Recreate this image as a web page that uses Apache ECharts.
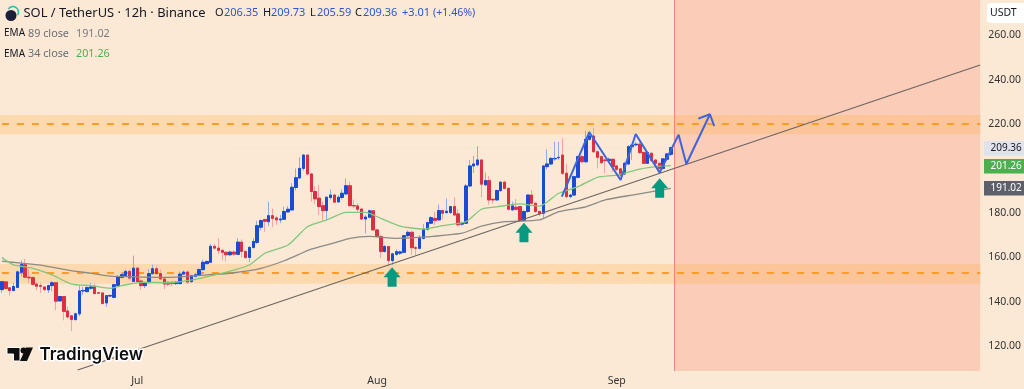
<!DOCTYPE html>
<html><head><meta charset="utf-8">
<style>html,body{margin:0;padding:0;background:#FBE9D5}#c{width:1024px;height:389px}</style>
<script src="https://cdn.jsdelivr.net/npm/echarts@6/dist/echarts.min.js"></script>
</head><body><div id="c"></div>
<script>
const opens=[145.4,148.9,146.2,145,146.4,153.2,156.6,151,150.8,147.9,147.2,146.6,145.3,147.2,148.5,140.3,142.3,135.8,133.6,131.9,
134.5,144.8,144.5,146,146.8,144,143.9,139.4,142.5,141.9,147.3,150.9,151.7,153.6,149.1,155.1,149.3,147.2,148.7,152.6,
154.8,152.6,150.2,148.7,148.7,148.1,148.1,152.4,153.3,149,151.4,151.8,154.4,157.1,157.7,164.9,164.1,163.1,162.2,161.1,
162.3,161.3,166.8,162.6,159.9,164.4,166.7,173.5,177,176,178.7,177.7,176.8,177.1,180.4,181.3,191.4,195.7,200,206,
197.5,189.6,186.6,183.2,181,186.9,188,184.9,186.9,188.5,192.2,183.3,183.1,181.7,177.2,178,180.9,172.3,169.3,162.6,
164.8,158.5,161.3,161.8,162.2,169.7,171.2,164.3,164,168.5,172.6,175.3,177.5,176.8,181,180.1,180.1,182.8,179.5,174.9,
175.3,192.1,201.1,201.6,203.8,192.6,194.5,186.1,185.8,190,193.8,191,181.3,182.5,182.8,176.5,180.6,188,184.3,180.6,
179.8,200.8,202,204.3,204.8,206,197.8,187.3,188,196,205.3,203,213.1,214.6,207.5,205.3,203.8,203.5,204.1,201.1,
199.8,197.5,202,209.8,210.6,210.9,207.2,202.3,206.8,203.8,202.3,200,204.1,206.35];
const closes=[149,145.9,145,146.8,153.4,156.8,151,150.7,147.8,146.9,146.9,145.4,147.2,148.5,140.2,142.3,135.6,133.1,131.9,134.5,
144.8,145,146.3,146.6,143.6,143.8,139.1,142.7,142.8,147.6,151.1,152.1,153.6,150.6,155.1,149,147.2,148.6,152.6,154.8,
152.6,150.2,147.9,147.9,148.1,148.7,152.4,153.3,148.8,151.7,152.1,154.4,157.7,158.1,164.9,164.1,163.1,162.2,161.1,162.3,
161.4,166.8,162.6,159.9,164.4,167.1,174.2,176.5,176.2,178.7,177.5,176.8,177.2,180.6,181.6,191.5,195.8,200,206,197.5,
189.6,186.3,182.8,181,187,188,184.8,187,188.8,192.2,183.2,183.1,181.6,177.2,178.1,180.9,172.3,169.3,162.6,164.8,
158.5,161.5,162.5,162.4,169.7,171.2,164.3,164,168.5,172.6,175.6,177.8,176.6,181,179.8,180.7,182.8,179,174.6,175.3,
192.1,201.1,202,203.8,192.9,194.5,185.8,185.8,190,193.8,191,181.6,183.1,181.6,176.5,180.6,188,184.3,180.6,179.5,
201.1,202,204.5,204.5,205,197.8,187.3,188,196.3,205.3,203,213.1,214.6,207.5,205,202.6,203.5,204.1,200.8,199.6,
197,202.3,209.8,210.5,210.9,207.1,202.3,207.1,203.5,202.3,200,204.3,206.5,209.36];
const lows=[143.9,145.4,142.7,144.6,146,151.4,150.7,148.4,147.2,145.1,143.9,144.7,143.9,144.7,136.1,140,131.6,132.2,126.7,131.5,
133.4,142.9,144.2,145.4,143.3,143.5,139,137.6,142,141.5,147,150.4,151.2,150,149,148.5,145.4,146.1,148,152.2,
152,149.8,145.6,147,146.9,147.5,147.8,152,148,148.5,151,151.5,154,156.8,157.4,163.5,161.5,158.6,158.1,160.5,
160.5,161,160,159.2,157.7,163.9,166,172,171.5,174,173.5,174.5,175.3,176.8,180,181,190,195.5,199,197,
185,184,179,176.6,176.8,186,184.5,184.5,186,188,183,182,180.5,176.8,170.8,177.5,172,169,159.6,162,
155.8,156.6,160.6,161,162,169,161,161,163.5,168,172,175,174.5,176.5,177,179.5,179.5,178.6,173.8,174,
175,191.6,198,201,187,192,183.6,184,185.5,189.5,190.5,181,181,181,175.8,176,180,184,180,178.5,
177.5,199.5,201.5,203.5,203.8,197,186.5,186.5,187.5,195.5,202.5,202.5,212.5,207,200,202,197.8,203,198.5,198.8,
196.2,197,201.5,203.8,210,206.5,202,202,203,202,199.5,199.5,203.8,205.59];
const highs=[149.3,149.2,146.4,148.4,154,158.6,159.2,154.7,151.4,148.7,148.4,146.9,147.6,149.2,148.7,142.5,142.5,137.6,133.8,135,
147.2,146.6,146.9,148.4,148.1,144.2,144,142.9,143,148,152,153,154.4,154.4,160.7,155.5,149.8,149,154.7,156.6,
156.2,154.4,150.5,149,149,149.3,153.6,154,154,152,153,155,158.9,158.5,166,166,168.6,163.5,162.8,163,
163,168.6,168,163,165,168.6,176.4,177,177.3,185,182,178.5,179,182.8,183,193.3,200,205,206.3,206.3,
198,192,192.5,185,187.5,190.5,188.5,188,190.6,195.5,194,186,184.3,182,179,181.5,181.2,172.5,170,165.5,
165,162,163.5,163,170,172,172,165,170,175,176,178.5,180.5,183.8,181.5,186.5,183,187,181.7,176,
193,203.8,205.6,210,204,198.2,196.6,186.5,190.5,194,194.5,191.5,185,186.2,183,181,188.3,190.3,184.6,181,
201.5,208.6,205,212,212,213.6,202,188.5,196.8,205.8,206,216.9,216.9,218.4,208,205.8,204.5,205,204.5,201.5,
200.2,203,210.5,211,212,212,207.5,207.5,207.2,204.2,202.6,204.6,207,209.73];

const categoryCount=254;
const tickLabels={35:'Jul',97:'Aug',159:'Sep'};
const priceTicks=[120,140,160,180,220,240,260];
const ema89=[[0,158.2],[5,157.3],[10,156.4],[17,154.2],[22,153],[28,151.5],[34,151.2],[43,150.9],[53,152],[60,153],[67,155],[73,158.4],[80,163.6],[85,166],[90,168.5],[95,169.4],[102,168.5],[109,169],[119,170.8],[124,174],[130,176],[139,176.8],[144,180.5],[151,182.7],[156,185.8],[163,188],[173,191.02]];
const ema34=[[0,159.8],[3,156.5],[8,155],[13,152],[18,147.9],[23,147.2],[28,146],[31,147.2],[36,148.7],[43,148.5],[50,150],[55,152],[60,154.2],[64,156.5],[68,161.8],[74,165.5],[79,173.7],[84,176.8],[89,180.2],[94,180.2],[98,177.5],[103,174],[109,172.7],[114,174.2],[120,176],[124,181.6],[128,182.7],[134,184],[139,183],[144,188.8],[149,191.8],[154,196],[159,197],[165,199.7],[170,201],[173,201.26]];
const trendLine=[[19.6,109.2],[253,246.6]];
const zigzag=[[144.8,187.3],[151.9,216.3],[160,194.8],[163.9,215.5],[170.1,198.1],[175,215.2],[177,202],[183.1,224.4]];
const arrowHead=[[180.1,222.4],[183.1,224.4],[184.2,219.1]];
const upArrows=[[100.9,151.1],[135,171.1],[170.1,191.2]];
const lastBarIndex=253, nowIndex=174;
const bands=[[215.4,224.05],[148,156.9]];
const bandLevels=[220,153];
const lastPrice=209.36;
const badges=[{v:209.36,bg:'#E0E3EB',fg:'#131722'},{v:201.26,bg:'#4CAF50',fg:'#fff'},{v:191.02,bg:'#5D606B',fg:'#fff'}];

const FONT='"Noto Sans",sans-serif';
const BLUE='#1A4BD1',RED='#DC2F41',PBLUE='#93A9EA',PRED='#F2A3A3';
const idx=[...Array(categoryCount).keys()];
const rows=opens.map((o,i)=>[o,closes[i],lows[i],highs[i]]);
const bodies=opens.map((o,i)=>[o,closes[i],Math.min(o,closes[i]),Math.max(o,closes[i])]);

const chart=echarts.init(document.getElementById('c'),null,{renderer:'canvas'});
const yMin=108.74,yMax=275.86;
function txt(x,y,text,fill,size,weight){return {type:'text',x,y,z:20,style:{text,fill,font:(weight||'normal')+' '+size+'px '+FONT,textVerticalAlign:'middle'}};}
const graphic=[
 {type:'circle',z:20,shape:{cx:11,cy:15.5,r:5.5},style:{fill:'#1B1F3A'}},
 {type:'arc',z:20,shape:{cx:13,cy:12,r:5.5,startAngle:-2.6,endAngle:0.6},style:{stroke:'#2FB8A8',lineWidth:1.5,fill:null}},
 txt(23.5,13,'SOL / TetherUS · 12h · Binance','#131722',12.9),
 txt(215,13,'O','#131722',11),txt(224,13,'206.35','#2B55D6',11),
 txt(263,13,'H','#131722',11),txt(271,13,'209.73','#2B55D6',11),
 txt(310,13,'L','#131722',11),txt(317,13,'205.59','#2B55D6',11),
 txt(355,13,'C','#131722',11),txt(363,13,'209.36','#2B55D6',11),
 txt(402,13,'+3.01','#2B55D6',11),txt(433,13,'(+1.46%)','#2B55D6',10.6),
 txt(4,33.5,'EMA','#131722',10),txt(28,33.5,'89 close','#6a6d78',10.8),txt(76,33.5,'191.02','#777a85',10.8),
 txt(4,54,'EMA','#131722',10),txt(28,54,'34 close','#6a6d78',10.8),txt(76,54,'201.26','#4CAF50',10.8),
 {type:'rect',z:20,shape:{x:987,y:3,width:42,height:20,r:4},style:{fill:'#FFFFFF'}},
 txt(990,13,'USDT','#131722',10.5),
 {type:'polygon',z:20,shape:{points:[[7,347.5],[20,347.5],[20,361],[13.5,361],[13.5,354],[7,354]]},style:{fill:'#0F0F0F',stroke:'#fff',lineWidth:1}},
 {type:'circle',z:20,shape:{cx:23.5,cy:350.5,r:3},style:{fill:'#0F0F0F'}},
 {type:'polygon',z:20,shape:{points:[[26,347.5],[33,347.5],[27,361],[20,361]]},style:{fill:'#0F0F0F'}},
 {type:'text',x:39.5,y:355,z:20,style:{text:'TradingView',fill:'#0F0F0F',font:'600 17px "Inter",'+FONT,textVerticalAlign:'middle',stroke:'#ffffff',lineWidth:3}}
];
const yPix=v=>(275.86-v)/(yMax-yMin)*371;
badges.forEach(b=>{const y=yPix(b.v);
 graphic.push({type:'rect',z:20,shape:{x:984,y:Math.round(y)-7,width:40,height:14.5},style:{fill:b.bg}});
 graphic.push(txt(990.5,Math.round(y),b.v.toFixed(2),b.fg,10));
});
chart.setOption({
 animation:false,backgroundColor:'#FBE9D5',graphic,
 grid:{left:0,top:0,width:985,height:371,containLabel:false},
 xAxis:[
  {type:'category',data:idx.map(String),boundaryGap:true,
   axisLine:{show:false},axisTick:{show:false},splitLine:{show:false},
   axisLabel:{interval:(i)=>tickLabels[i]!==undefined,formatter:(v)=>tickLabels[v]||'',color:'#333',fontSize:10.5,fontFamily:FONT,margin:5}},
  {type:'value',min:-0.5,max:categoryCount-0.5,show:false}
 ],
 yAxis:{type:'value',position:'right',min:yMin,max:yMax,
  axisLine:{show:false},axisTick:{show:false},splitLine:{show:false},
  axisLabel:{customValues:priceTicks,formatter:v=>v.toFixed(2),color:'#333',fontSize:10.5,fontFamily:FONT,margin:6}},
 series:[
  {type:'line',xAxisIndex:1,data:[],silent:true,
   markArea:{silent:true,z:1,data:[
     [{coord:[nowIndex,yMin],itemStyle:{color:'#FBCDB9'}},{coord:[lastBarIndex,yMax]}],
     ...bands.map(b=>[{coord:[-0.5,b[0]],itemStyle:{color:'rgba(255,170,60,0.25)'}},{coord:[lastBarIndex,b[1]]}])
   ]},
   markLine:{silent:true,z:1,symbol:'none',label:{show:false},data:[
     ...bandLevels.map(v=>[{coord:[0,v],lineStyle:{color:'#FF9C24',width:2,type:[7,8]}},{coord:[lastBarIndex,v]}]),
     [{coord:[60,lastPrice],lineStyle:{color:'#e8dccd',width:1,type:[1,3]}},{coord:[nowIndex,lastPrice]}]
   ]}},
  {name:'wicks',type:'candlestick',barWidth:3,z:2,silent:true,data:rows,
   itemStyle:{color:PBLUE,color0:PRED,borderColor:PBLUE,borderColor0:PRED,borderWidth:1}},
  {name:'bodies',type:'candlestick',barWidth:3,z:3,silent:true,data:bodies,
   itemStyle:{color:BLUE,color0:RED,borderColor:BLUE,borderColor0:RED,borderWidth:1}},
  {name:'EMA 89',type:'line',z:4,data:ema89,symbol:'none',smooth:0.2,lineStyle:{color:'#8C8A86',width:1.3},silent:true},
  {name:'EMA 34',type:'line',z:4,data:ema34,symbol:'none',smooth:0.2,lineStyle:{color:'#82C77E',width:1.3},silent:true},
  {name:'trend',type:'line',xAxisIndex:1,z:5,data:trendLine,symbol:'none',lineStyle:{color:'#6b6460',width:1.2},silent:true},
  {name:'zigzag',type:'line',xAxisIndex:1,z:6,data:zigzag,symbol:'none',lineStyle:{color:'#3F63DB',width:2},silent:true},
  {name:'arrowHead',type:'line',xAxisIndex:1,z:6,data:arrowHead,symbol:'none',lineStyle:{color:'#3F63DB',width:2},silent:true},
  {name:'upArrows',type:'scatter',xAxisIndex:1,z:7,data:upArrows,silent:true,
   symbol:'path://M8.5 0 L17 10 L13 10 L13 19.5 L4 19.5 L4 10 L0 10 Z',symbolSize:[17,19.5],
   itemStyle:{color:'#089981',opacity:1}},
  {name:'now',type:'line',z:7,data:[],silent:true,markLine:{silent:true,symbol:'none',label:{show:false},
   lineStyle:{color:'#EE8484',width:1,type:'solid'},data:[{xAxis:nowIndex}]}}
 ]
});
</script></body></html>
